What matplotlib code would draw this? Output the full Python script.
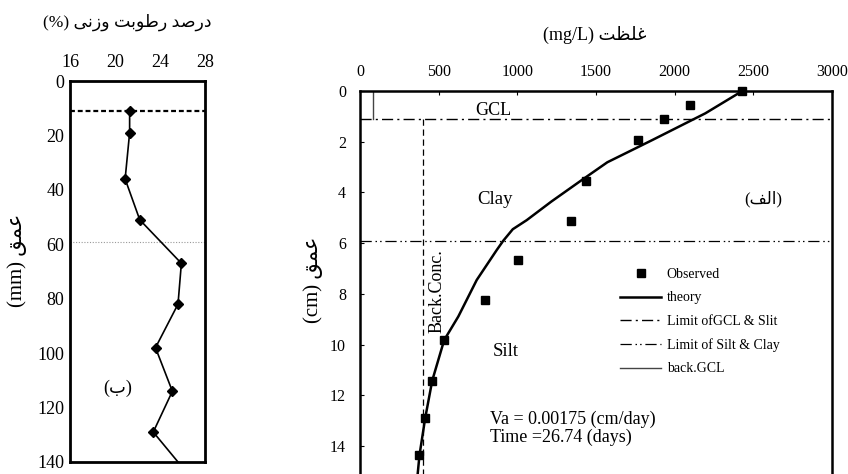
import matplotlib
matplotlib.use('Agg')
import matplotlib.pyplot as plt

plt.rcParams['font.family'] = ['Liberation Serif', 'DejaVu Sans']

# --- left panel: moisture profile (b) ---
moist_depth = [11, 19, 36, 51, 67, 82, 98, 114, 129, 145]
moisture = [21.3, 21.3, 20.9, 22.2, 25.9, 25.6, 23.6, 25.1, 23.4, 26.6]
gcl_depth_mm = 11
layer_depth_mm = 59
moist_ticks = [16, 20, 24, 28]
depth_mm_ticks = [0, 20, 40, 60, 80, 100, 120, 140]

# --- right panel: concentration profile (a) ---
obs_depth = [0, 0.54, 1.10, 1.93, 3.54, 5.12, 6.65, 8.24, 9.82, 11.42, 12.91, 14.36]
obs_conc = [2430, 2098, 1930, 1768, 1438, 1338, 1004, 797, 532, 459, 414, 376]
theory_depth = [0, 0.88, 1.93, 2.32, 2.81, 3.54, 4.36, 5.09, 5.45, 5.9, 6.27,
                7.45, 8.89, 9.82, 11.42, 12.91, 14.36, 15.2]
theory_conc = [2430, 2195, 1859, 1732, 1572, 1403, 1216, 1060, 971, 911, 869,
               742, 625, 535, 459, 414, 378, 365]
gcl_limit = 1.1
silt_clay_limit = 5.9
back_gcl = 80
back_conc = 400
conc_ticks = [0, 500, 1000, 1500, 2000, 2500, 3000]
depth_cm_ticks = [0, 2, 4, 6, 8, 10, 12, 14]

# simple persian shaping (presentation forms), matplotlib has no RTL layout
FORMS = {
    'ا': ('\uFE8D', '\uFE8E', None, None),
    'ب': ('\uFE8F', '\uFE90', '\uFE91', '\uFE92'),
    'ت': ('\uFE95', '\uFE96', '\uFE97', '\uFE98'),
    'د': ('\uFEA9', '\uFEAA', None, None),
    'ر': ('\uFEAD', '\uFEAE', None, None),
    'ز': ('\uFEAF', '\uFEB0', None, None),
    'ص': ('\uFEB9', '\uFEBA', '\uFEBB', '\uFEBC'),
    'ط': ('\uFEC1', '\uFEC2', '\uFEC3', '\uFEC4'),
    'ظ': ('\uFEC5', '\uFEC6', '\uFEC7', '\uFEC8'),
    'ع': ('\uFEC9', '\uFECA', '\uFECB', '\uFECC'),
    'غ': ('\uFECD', '\uFECE', '\uFECF', '\uFED0'),
    'ف': ('\uFED1', '\uFED2', '\uFED3', '\uFED4'),
    'ق': ('\uFED5', '\uFED6', '\uFED7', '\uFED8'),
    'ل': ('\uFEDD', '\uFEDE', '\uFEDF', '\uFEE0'),
    'م': ('\uFEE1', '\uFEE2', '\uFEE3', '\uFEE4'),
    'ن': ('\uFEE5', '\uFEE6', '\uFEE7', '\uFEE8'),
    'و': ('\uFEED', '\uFEEE', None, None),
    'ی': ('\uFBFC', '\uFBFD', '\uFBFE', '\uFBFF'),
}


def shape(word):
    out = []
    for i, ch in enumerate(word):
        f = FORMS[ch]
        prev = i > 0 and FORMS[word[i - 1]][2] is not None
        nxt = i < len(word) - 1 and f[2] is not None
        if prev and nxt:
            out.append(f[3])
        elif prev:
            out.append(f[1])
        elif nxt:
            out.append(f[2])
        else:
            out.append(f[0])
    return ''.join(reversed(out))


def fa(text):
    return ' '.join(shape(w) for w in reversed(text.split()))


W, H = 848, 474
fig = plt.figure(figsize=(W / 100, H / 100), dpi=100)

# left panel
ax1 = fig.add_axes([70 / W, 1 - 462 / H, 135 / W, 381 / H])
ax1.plot(moisture, moist_depth, color='black', lw=1.2, marker='D', ms=5.5,
         clip_on=True, zorder=3)
ax1.axhline(gcl_depth_mm, color='black', lw=1.6, ls=(0, (2.2, 1.3)))
ax1.axhline(layer_depth_mm, color='#999999', lw=0.8, ls=(0, (1, 1.5)))
ax1.set_xlim(16, 28)
ax1.set_ylim(140, 0)
ax1.set_xticks(moist_ticks)
ax1.set_yticks(depth_mm_ticks)
ax1.xaxis.tick_top()
ax1.tick_params(direction='in', length=0, labelsize=13)
ax1.tick_params(axis='x', pad=7)
ax1.tick_params(axis='y', pad=4)
for s in ax1.spines.values():
    s.set_linewidth(2.0)
ax1.text(20.2, 113, '(' + fa('ب') + ')', fontsize=13, ha='center', va='center')
fig.text(127 / W, 1 - 22 / H, '(%) ' + fa('درصد رطوبت وزنی'), fontsize=12.5,
         ha='center', va='center')
fig.text(17 / W, 1 - 260 / H, '(mm) ' + fa('عمق'), fontsize=15, rotation=90,
         ha='center', va='center')

# right panel
ax2 = fig.add_axes([360 / W, 0, 472 / W, 1 - 91 / H])
ax2.plot(obs_conc, obs_depth, ls='none', marker='s', ms=5.5, color='black',
         clip_on=False, zorder=4, label='Observed')
ax2.plot(theory_conc, theory_depth, color='black', lw=1.8, zorder=3, label='theory')
ax2.axhline(gcl_limit, color='black', lw=1.0, ls=(0, (8, 3, 1.5, 3)),
            label='Limit ofGCL & Slit')
ax2.axhline(silt_clay_limit, color='black', lw=0.9, ls=(0, (9, 3, 1.2, 2.5, 1.2, 3)),
            label='Limit of Silt & Clay')
ax2.plot([back_gcl, back_gcl], [0, gcl_limit], color='#444444', lw=1.0,
         label='back.GCL')
ax2.vlines(back_conc, gcl_limit, 15.1, color='black', lw=0.9, ls=(0, (5, 3)))
ax2.set_xlim(0, 3000)
ax2.set_ylim(15.1, 0)
ax2.set_xticks(conc_ticks)
ax2.set_yticks(depth_cm_ticks)
ax2.xaxis.tick_top()
ax2.tick_params(direction='in', length=3, labelsize=11.5)
ax2.tick_params(axis='x', pad=8)
ax2.tick_params(axis='y', pad=10)
for s in ax2.spines.values():
    s.set_linewidth(1.8)
ax2.spines['bottom'].set_visible(False)

ax2.legend(loc='upper left', bbox_to_anchor=(0.551, 0.538), frameon=False,
           fontsize=10, handlelength=2.95, handletextpad=0.4, labelspacing=0.75,
           borderpad=0, borderaxespad=0)

ax2.text(846, 0.75, 'GCL', fontsize=13, ha='center', va='center')
ax2.text(857, 4.27, 'Clay', fontsize=13.5, ha='center', va='center')
ax2.text(2561, 4.27, '(' + fa('الف') + ')', fontsize=12, ha='center', va='center')
ax2.text(929, 10.28, 'Silt', fontsize=13.5, ha='center', va='center')
ax2.text(488, 7.9, 'Back.Conc.', fontsize=13, rotation=90, ha='center', va='center')
ax2.text(824, 13.3, 'Va = 0.00175 (cm/day)\nTime =26.74 (days)', fontsize=13,
         ha='left', va='center', linespacing=1.0)

fig.text(595 / W, 1 - 35 / H, '(mg/L) ' + fa('غلظت'), fontsize=13,
         ha='center', va='center')
fig.text(313 / W, 1 - 280 / H, '(cm) ' + fa('عمق'), fontsize=15, rotation=90,
         ha='center', va='center')

fig.savefig('out.png', dpi=100)
